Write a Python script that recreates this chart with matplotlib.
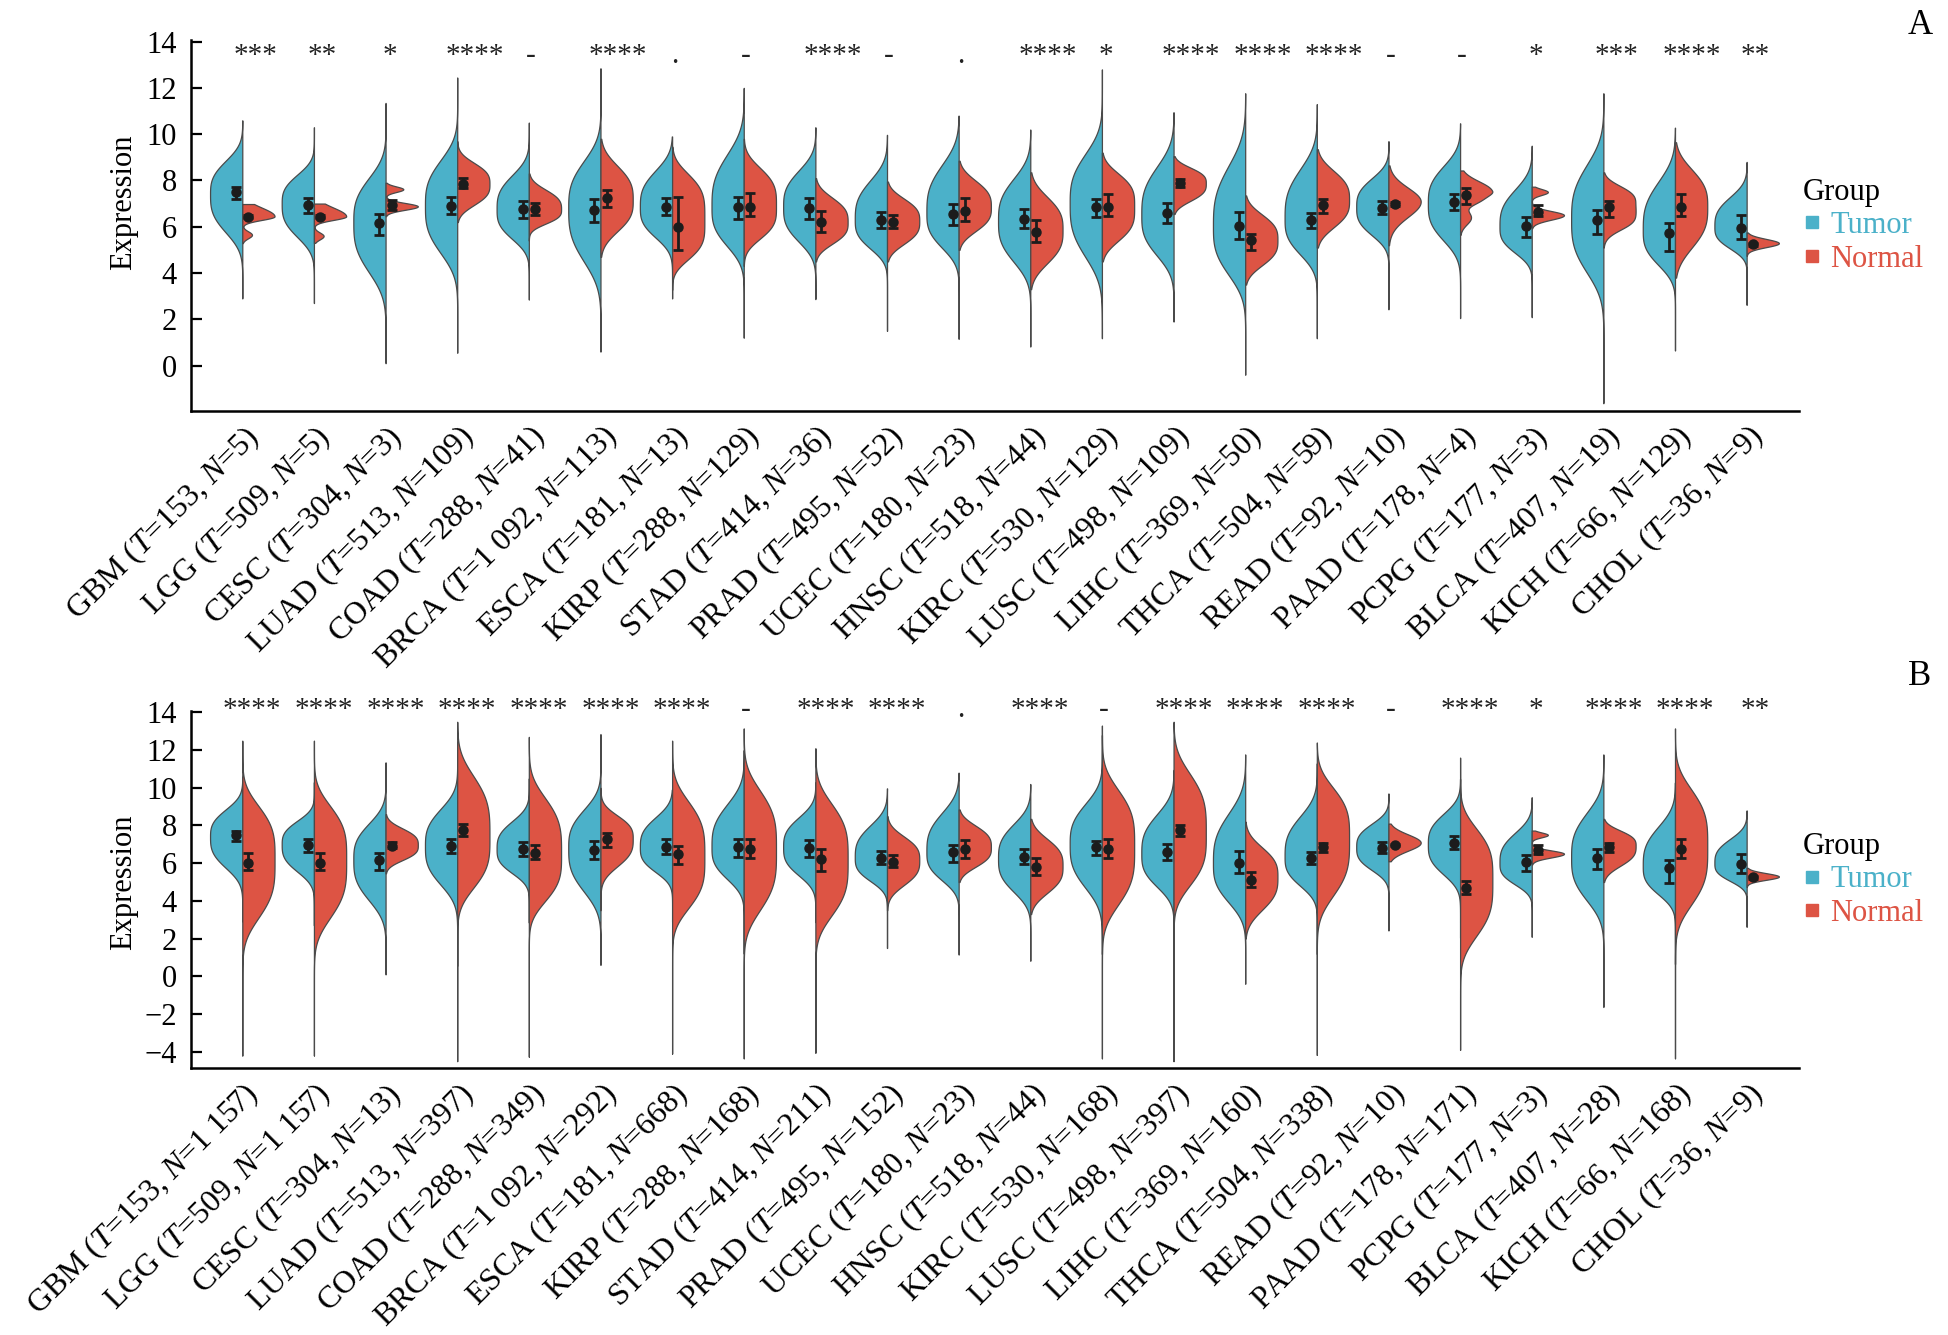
import numpy as np
import matplotlib
matplotlib.use("Agg")
import matplotlib.pyplot as plt
from matplotlib.lines import Line2D

plt.rcParams['font.family'] = ['Liberation Serif', 'DejaVu Serif']
plt.rcParams['mathtext.fontset'] = 'custom'
plt.rcParams['mathtext.rm'] = 'Liberation Serif'
plt.rcParams['mathtext.it'] = 'Liberation Serif:italic'

"""---Categories and sample sizes---"""
cancers = ["GBM", "LGG", "CESC", "LUAD", "COAD", "BRCA", "ESCA", "KIRP", "STAD", "PRAD", "UCEC",
           "HNSC", "KIRC", "LUSC", "LIHC", "THCA", "READ", "PAAD", "PCPG", "BLCA", "KICH", "CHOL"]
tumor_n = ["153", "509", "304", "513", "288", "1 092", "181", "288", "414", "495", "180",
           "518", "530", "498", "369", "504", "92", "178", "177", "407", "66", "36"]
normal_n_a = ["5", "5", "3", "109", "41", "113", "13", "129", "36", "52", "23",
              "44", "129", "109", "50", "59", "10", "4", "3", "19", "129", "9"]
normal_n_b = ["1 157", "1 157", "13", "397", "349", "292", "668", "168", "211", "152", "23",
              "44", "168", "397", "160", "338", "10", "171", "3", "28", "168", "9"]

stars_a = ["***", "**", "*", "****", "-", "****", ".", "-", "****", "-", ".",
           "****", "*", "****", "****", "****", "-", "-", "*", "***", "****", "**"]
stars_b = ["****", "****", "****", "****", "****", "****", "****", "-", "****", "****", ".",
           "****", "-", "****", "****", "****", "-", "****", "*", "****", "****", "**"]

"""---Tumor halves (same samples in both panels)---"""
# mode = widest point, body_lo/body_hi = where the body closes in, min/max = thin tails
tumor_mode = [7.4, 7.0, 6.2, 6.9, 6.75, 6.8, 6.85, 6.85, 6.85, 6.3, 6.6,
              6.25, 7.0, 6.5, 6.0, 6.35, 6.85, 7.0, 6.0, 6.3, 5.85, 6.0]
tumor_body_lo = [4.9, 4.8, 2.9, 3.8, 4.8, 3.3, 4.85, 4.28, 4.57, 4.4, 4.3,
                 3.56, 3.5, 3.84, 2.84, 3.99, 5.0, 4.57, 4.28, 2.84, 3.56, 4.57]
tumor_body_hi = [9.6, 8.9, 9.1, 9.9, 9.0, 9.9, 9.25, 10.3, 9.25, 8.9, 9.75,
                 9.03, 10.26, 9.68, 10.0, 9.6, 8.74, 9.46, 8.45, 9.9, 9.03, 7.95]
tumor_min = [2.9, 2.7, 0.1, 0.55, 2.85, 0.6, 2.9, 1.2, 2.87, 1.5, 1.15,
             0.82, 1.18, 1.9, -0.4, 1.18, 2.43, 2.05, 2.09, -1.63, 0.65, 2.62]
tumor_max = [10.6, 10.3, 11.35, 12.45, 10.5, 12.85, 9.9, 12.0, 10.3, 9.97, 10.8,
             10.2, 12.8, 10.95, 11.77, 11.3, 9.7, 10.47, 9.5, 11.77, 10.28, 8.8]
tumor_mean = [7.49, 6.94, 6.15, 6.9, 6.75, 6.72, 6.87, 6.84, 6.8, 6.29, 6.57,
              6.34, 6.84, 6.58, 6.03, 6.29, 6.83, 7.06, 6.05, 6.27, 5.72, 5.96]
tumor_low = [7.19, 6.61, 5.65, 6.54, 6.37, 6.22, 6.51, 6.34, 6.34, 5.93, 6.06,
             5.93, 6.41, 6.15, 5.49, 5.93, 6.54, 6.73, 5.57, 5.69, 4.97, 5.46]
tumor_high = [7.73, 7.26, 6.54, 7.3, 7.13, 7.19, 7.26, 7.3, 7.23, 6.65, 6.98,
              6.77, 7.19, 7.01, 6.65, 6.58, 7.13, 7.42, 6.44, 6.73, 6.18, 6.51]

"""---Normal halves, panel A---"""
normal_a_mode = [6.45, 6.45, 6.88, 7.85, 6.75, 7.15, 6.3, 6.9, 6.2, 6.25, 6.85,
                 5.86, 6.87, 7.88, 5.43, 7.16, 7.09, 7.55, 6.5, 7.0, 6.87, 5.29]
normal_a_body_lo = [6.05, 6.05, 6.5, 6.3, 5.7, 4.85, 3.8, 4.7, 4.6, 4.55, 5.07,
                    3.4, 4.57, 6.58, 3.56, 5.14, 5.4, 6.9, 6.0, 5.3, 3.85, 4.85]
normal_a_body_hi = [7.4, 7.4, 7.25, 9.4, 8.2, 9.68, 9.2, 9.46, 8.0, 7.9, 8.8,
                    8.3, 9.1, 9.03, 7.3, 9.3, 8.6, 8.6, 6.95, 8.3, 9.6, 5.75]
normal_a_shape = [2, 2, 2, 3, 3, 3, 4, 3.5, 3, 3, 3,
                  3, 3.5, 3, 3, 3, 2, 2, 2, 3, 3, 2]
normal_a_min = [5.29, 5.3, 6.45, 6.2, 5.4, 4.7, 3.27, 4.3, 4.5, 4.5, 5.0,
                3.3, 4.5, 6.55, 3.5, 5.1, 5.2, 5.65, 5.93, 5.1, 3.8, 4.74]
normal_a_max = [6.98, 7.0, 7.9, 9.7, 8.3, 9.8, 9.46, 9.8, 8.1, 7.95, 8.85,
                8.35, 9.2, 9.05, 7.35, 9.35, 8.65, 8.43, 7.73, 8.35, 9.65, 5.75]
normal_a_mean = [6.44, 6.44, 6.92, 7.86, 6.76, 7.24, 6.0, 6.87, 6.22, 6.2, 6.7,
                 5.79, 6.87, 7.88, 5.43, 6.94, 6.98, 7.37, 6.63, 6.87, 6.87, 5.24]
normal_a_low = [6.36, 6.37, 6.72, 7.66, 6.5, 6.87, 5.0, 6.47, 5.76, 5.93, 6.26,
                5.36, 6.47, 7.7, 5.0, 6.61, 6.88, 6.99, 6.47, 6.4, 6.47, 5.17]
normal_a_high = [6.52, 6.51, 7.15, 8.1, 7.04, 7.59, 7.3, 7.45, 6.7, 6.5, 7.26,
                 6.29, 7.43, 8.05, 5.67, 7.2, 7.06, 7.66, 6.94, 7.11, 7.42, 5.31]
# extra modes (centre, spread, relative height) of the lumpy small-N halves
normal_a_bumps = {0: [(5.65, 0.15, 0.3)], 1: [(5.6, 0.15, 0.3)], 2: [(7.62, 0.12, 0.55)],
                  17: [(7.1, 0.2, 0.4), (6.4, 0.3, 0.35)],
                  18: [(7.5, 0.13, 0.5)], 19: [(6.1, 0.3, 0.2)]}

"""---Normal halves, panel B---"""
normal_b_mode = [6.2, 6.2, 6.96, 7.4, 6.5, 7.3, 6.34, 6.7, 6.17, 6.17, 6.85,
                 5.86, 6.87, 7.58, 5.28, 7.3, 7.09, 5.1, 6.5, 6.93, 6.87, 5.29]
normal_b_body_lo = [1.4, 1.4, 5.6, 3.2, 2.6, 4.8, 2.1, 1.75, 1.6, 3.9, 5.07,
                    3.4, 2.1, 3.3, 2.28, 2.6, 6.0, 0.5, 6.0, 5.1, 2.1, 4.85]
normal_b_body_hi = [10.6, 10.6, 8.47, 12.4, 11.1, 9.4, 10.9, 11.6, 10.8, 8.3, 8.8,
                    8.3, 11.56, 12.5, 7.94, 11.5, 8.2, 9.35, 6.95, 8.3, 11.6, 5.75]
normal_b_shape = [3.5, 3.5, 3, 3.5, 3.5, 3, 3.5, 3.5, 3.5, 3, 3,
                  3, 3.5, 3.5, 3, 3.5, 2, 3.5, 2, 3, 3.5, 2]
normal_b_min = [-4.2, -4.2, 5.46, -4.5, -4.26, 3.5, -4.1, -4.35, -4.05, 3.5, 5.0,
                3.3, -4.35, -4.5, 2.0, -4.17, 6.1, -3.9, 5.93, 5.0, -4.35, 4.74]
normal_b_max = [12.5, 12.5, 8.6, 13.5, 12.7, 10.0, 12.5, 13.15, 12.1, 8.5, 8.85,
                8.35, 13.3, 13.5, 8.2, 12.4, 8.1, 11.6, 7.73, 8.35, 13.15, 5.75]
normal_b_mean = [6.03, 6.03, 6.93, 7.74, 6.55, 7.28, 6.49, 6.77, 6.22, 6.08, 6.73,
                 5.78, 6.75, 7.76, 5.1, 6.84, 6.96, 4.7, 6.7, 6.84, 6.75, 5.25]
normal_b_low = [5.64, 5.64, 6.8, 7.46, 6.2, 6.87, 5.96, 6.26, 5.58, 5.8, 6.26,
                5.37, 6.26, 7.46, 4.72, 6.6, 6.9, 4.35, 6.47, 6.6, 6.26, 5.17]
normal_b_high = [6.52, 6.52, 7.1, 8.06, 6.96, 7.62, 6.93, 7.28, 6.75, 6.43, 7.23,
                 6.26, 7.28, 8.02, 5.55, 7.09, 7.02, 5.07, 6.94, 7.05, 7.28, 5.31]
normal_b_bumps = {18: [(7.5, 0.13, 0.5)]}

blue = "#4BB1C9"
red = "#DD5444"
edge = "#4a4a4a"
half_width = 0.45


def half_profile(lo, hi, mode, body_lo, body_hi, p, frac, bumps):
    # width of one half violin, down to `frac` of its maximum at body_lo / body_hi
    y = np.linspace(lo, hi, 800)
    k = np.log(1.0 / frac) ** (1.0 / p)
    a = np.where(y < mode, (mode - body_lo) / k, (body_hi - mode) / k)
    w = np.exp(-np.abs((y - mode) / a) ** p)
    for mu, sd, h in bumps:
        w = w + h * np.exp(-0.5 * ((y - mu) / sd) ** 2)
    return y, half_width * w / w.max()


def draw_panel(ax, normal, stars, star_y, star_shift, ylim, yticks, nlabels):
    (n_mode, n_blo, n_bhi, n_shape, n_min, n_max,
     n_mean, n_low, n_high, n_bumps) = normal
    for i in range(len(cancers)):
        x = i + 1
        y, w = half_profile(tumor_min[i], tumor_max[i], tumor_mode[i],
                            tumor_body_lo[i], tumor_body_hi[i], 3.0, 0.1, [])
        ax.fill_betweenx(y, x - w, x, facecolor=blue, edgecolor=edge, linewidth=0.9, zorder=2)
        y, w = half_profile(n_min[i], n_max[i], n_mode[i], n_blo[i], n_bhi[i],
                            n_shape[i], 0.04, n_bumps.get(i, []))
        ax.fill_betweenx(y, x, x + w, facecolor=red, edgecolor=edge, linewidth=0.9, zorder=2)
        ax.errorbar(x - 0.085, tumor_mean[i],
                    yerr=[[tumor_mean[i] - tumor_low[i]], [tumor_high[i] - tumor_mean[i]]],
                    fmt='o', color='#1c1c1c', ms=6.5, capsize=3.5, elinewidth=2, capthick=2, zorder=4)
        ax.errorbar(x + 0.085, n_mean[i],
                    yerr=[[n_mean[i] - n_low[i]], [n_high[i] - n_mean[i]]],
                    fmt='o', color='#1c1c1c', ms=6.5, capsize=3.5, elinewidth=2, capthick=2, zorder=4)
        lab = stars[i]
        if lab in ("-", "."):
            dx = 0.03
        else:
            dx = star_shift[len(lab)]
        ax.text(x + dx, star_y, lab, ha='center', va='baseline', fontsize=21,
                color='#222222', clip_on=False)
    ax.set_xlim(0.284, 22.73)
    ax.set_ylim(*ylim)
    ax.set_yticks(yticks)
    ax.set_xticks(range(1, len(cancers) + 1))
    ax.set_xticklabels([f"{c} ($T$={t}, $N$={n})" for c, t, n in zip(cancers, tumor_n, nlabels)],
                       rotation=45, ha='right', va='top', rotation_mode='anchor', fontsize=23)
    ax.tick_params(axis='x', length=0, pad=7)
    ax.tick_params(axis='y', direction='in', length=8, width=1.6, labelsize=22, pad=10)
    for side in ('top', 'right'):
        ax.spines[side].set_visible(False)
    for side in ('left', 'bottom'):
        ax.spines[side].set_linewidth(1.8)
    handles = [Line2D([], [], marker='s', ls='', color=blue, ms=9),
               Line2D([], [], marker='s', ls='', color=red, ms=9)]
    return handles


fig = plt.figure(figsize=(19.49, 13.35), dpi=100)
ax_a = fig.add_axes([0.098, 0.6924, 0.825, 0.2773])
ax_b = fig.add_axes([0.098, 0.1998, 0.825, 0.2673])

h = draw_panel(ax_a,
               (normal_a_mode, normal_a_body_lo, normal_a_body_hi, normal_a_shape,
                normal_a_min, normal_a_max, normal_a_mean, normal_a_low, normal_a_high,
                normal_a_bumps),
               stars_a, 13.07, {1: 0.058, 2: 0.116, 3: 0.18, 4: 0.24},
               (-1.95, 14.05), range(0, 15, 2), normal_n_a)
draw_panel(ax_b,
           (normal_b_mode, normal_b_body_lo, normal_b_body_hi, normal_b_shape,
            normal_b_min, normal_b_max, normal_b_mean, normal_b_low, normal_b_high,
            normal_b_bumps),
           stars_b, 13.75, {1: 0.06, 2: 0.116, 3: 0.14, 4: 0.14},
           (-4.88, 14.05), range(-4, 15, 2), normal_n_b)

for yl, ly, letter, lly in [(0.8487, 0.831, "A", 0.981), (0.3393, 0.341, "B", 0.493)]:
    fig.text(0.0636, yl, "Expression", rotation=90, ha='center', va='center', fontsize=22)
    fig.legend(h, ["Tumor", "Normal"], title="Group", loc='center left',
               bbox_to_anchor=(0.917, ly), frameon=False, fontsize=22,
               title_fontsize=22, labelcolor=[blue, red], handlelength=0.6,
               handletextpad=0.3, labelspacing=0.15, borderpad=0.0,
               alignment='left')
    fig.text(0.985, lly, letter, ha='center', va='center', fontsize=25)

fig.savefig("out.png", dpi=100)
